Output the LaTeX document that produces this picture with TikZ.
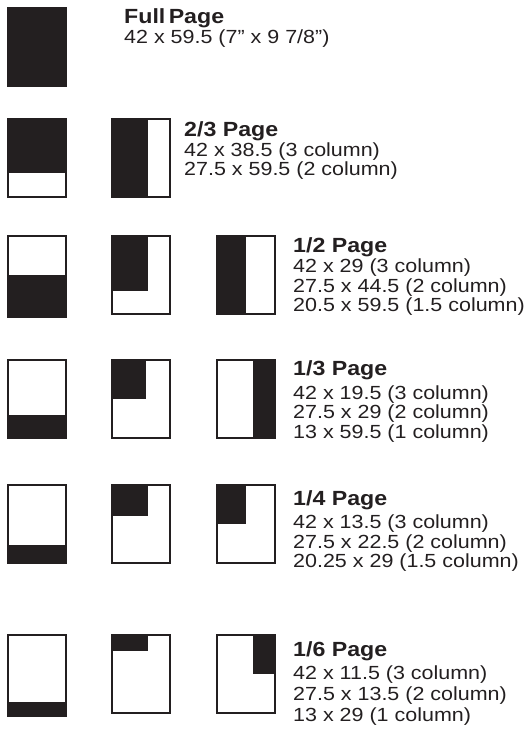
\documentclass[tikz,border=0pt]{standalone}
\usepackage{fontspec}
\setmainfont{Liberation Sans}[FakeStretch=1.13]
\definecolor{ink}{HTML}{231F20}
% one advertisement thumbnail: #1,#2 = top-left corner, #3 = height,
% #4 = black area (two opposite corners, relative to the top-left corner)
\newcommand\adpage[4]{%
  \begin{scope}[shift={(#1,#2)}]
    \fill[white] (0,0) rectangle (60,#3);
    \fill[ad] #4;
    \draw[pageframe] (1,1) rectangle (59,#3-1);
  \end{scope}}
\begin{document}
\begin{tikzpicture}[x=1pt,y=-1pt,
  pageframe/.style={draw=ink, line width=2pt},
  ad/.style={fill=ink},
  sizetitle/.style={anchor=base west, inner sep=0pt, text=ink,
    font=\fontsize{20.5}{22}\selectfont\bfseries},
  sizeline/.style={anchor=base west, inner sep=0pt, text=ink,
    font=\fontsize{19}{21}\selectfont}]
\useasboundingbox (0,0) rectangle (531,734);

% full page
\adpage{7}{7}{80}{(0,0) rectangle (60,80)}
\node[sizetitle] (full)  at (124,23) {Full\,Page};
\node[sizeline]  (full1) at (124,43) {42 x 59.5 (7” x 9 7/8”)};

% two-thirds page
\adpage{7}{118}{80}{(0,0) rectangle (60,55)}
\adpage{111}{118}{80}{(0,0) rectangle (37,80)}
\node[sizetitle] (twothird)  at (184,136) {2/3 Page};
\node[sizeline]  (twothird1) at (184,156) {42 x 38.5 (3 column)};
\node[sizeline]  (twothird2) at (184,175) {27.5 x 59.5 (2 column)};

% half page
\adpage{7}{235}{83}{(0,40) rectangle (60,83)}
\adpage{111}{235}{80}{(0,0) rectangle (37,56)}
\adpage{216}{235}{80}{(0,0) rectangle (30,80)}
\node[sizetitle] (half)  at (293,252) {1/2 Page};
\node[sizeline]  (half1) at (293,272) {42 x 29 (3 column)};
\node[sizeline]  (half2) at (293,292) {27.5 x 44.5 (2 column)};
\node[sizeline]  (half3) at (293,311) {20.5 x 59.5 (1.5 column)};

% third page
\adpage{7}{359}{80}{(0,56) rectangle (60,80)}
\adpage{111}{359}{80}{(0,0) rectangle (35,40)}
\adpage{216}{359}{80}{(37,0) rectangle (60,80)}
\node[sizetitle] (third)  at (293,375) {1/3 Page};
\node[sizeline]  (third1) at (293,399) {42 x 19.5 (3 column)};
\node[sizeline]  (third2) at (293,418) {27.5 x 29 (2 column)};
\node[sizeline]  (third3) at (293,438) {13 x 59.5 (1 column)};

% quarter page
\adpage{7}{484}{80}{(0,61) rectangle (60,80)}
\adpage{111}{484}{80}{(0,0) rectangle (37,32)}
\adpage{216}{484}{80}{(0,0) rectangle (30,40)}
\node[sizetitle] (quarter)  at (293,505) {1/4 Page};
\node[sizeline]  (quarter1) at (293,528) {42 x 13.5 (3 column)};
\node[sizeline]  (quarter2) at (293,548) {27.5 x 22.5 (2 column)};
\node[sizeline]  (quarter3) at (293,567) {20.25 x 29 (1.5 column)};

% sixth page
\adpage{7}{634}{83}{(0,68) rectangle (60,83)}
\adpage{111}{634}{80}{(0,0) rectangle (37,17)}
\adpage{216}{634}{80}{(37,0) rectangle (60,40)}
\node[sizetitle] (sixth)  at (293,656) {1/6 Page};
\node[sizeline]  (sixth1) at (293,679) {42 x 11.5 (3 column)};
\node[sizeline]  (sixth2) at (293,700) {27.5 x 13.5 (2 column)};
\node[sizeline]  (sixth3) at (293,721) {13 x 29 (1 column)};
\end{tikzpicture}
\end{document}
